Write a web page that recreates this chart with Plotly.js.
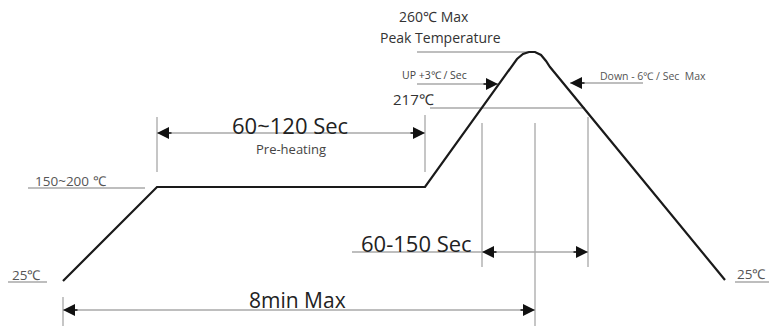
<!DOCTYPE html>
<html>
<head>
<meta charset="utf-8">
<script src="https://cdn.plot.ly/plotly-3.0.1.min.js"></script>
<style>html,body{margin:0;padding:0;background:#fff;}#chart{width:769px;height:326px;}</style>
</head>
<body>
<div id="chart"></div>
<script>
// Reflow profile (diagram units)
const profileX = [63, 157, 425, 511, 517, 523, 529, 535, 541, 546, 550, 725];
const profileY = [281, 187, 187, 67, 59, 54, 52, 52, 55, 61, 67, 280];

// Guide / dimension segments (start and end points)
const guideX1 = [28, 8, 63, 63, 535, 482, 588, 352, 157, 425, 157, 430, 417, 570, 417, 735];
const guideY1 = [188, 282, 297, 310, 123, 123, 117, 252, 117, 115, 133, 108, 84, 83, 52, 282];
const guideX2 = [145, 47, 63, 535, 535, 482, 588, 588, 157, 425, 425, 585, 498, 643, 530, 769];
const guideY2 = [188, 282, 326, 310, 326, 267, 267, 252, 172, 172, 133, 108, 84, 83, 52, 282];

// Arrow tips: position and direction (+1 right, -1 left)
const arrowX = [157, 425, 498, 570, 482, 588, 63, 535];
const arrowY = [133, 133, 84, 83, 252, 252, 310, 310];
const arrowDir = [-1, 1, 1, -1, -1, 1, -1, 1];

// Labels
const labelText = ["260℃ Max", "Peak Temperature", "UP +3℃ / Sec", "217℃", "Down - 6℃ / Sec  Max",
  "60~120 Sec", "Pre-heating", "150~200 ℃", "25℃", "60-150 Sec", "8min Max", "25℃"];
const labelX = [434, 440, 434, 413, 653, 290, 291, 71, 26, 416, 297, 751];
const labelY = [16, 37, 75, 99, 76, 125, 149, 181, 275, 243, 300, 274];
const labelSize = [14, 14, 10.5, 15, 10.5, 22, 13, 13.5, 13.5, 22, 21, 13.5];
const labelColor = ["#333", "#333", "#444", "#333", "#555", "#222", "#444", "#555", "#555", "#222", "#222", "#555"];

const gx = [], gy = [];
for (let i = 0; i < guideX1.length; i++) {
  gx.push(guideX1[i], guideX2[i], null);
  gy.push(guideY1[i], guideY2[i], null);
}

const traces = [
  {x: gx, y: gy, mode: 'lines', line: {color: '#a8a8a8', width: 1.3}, hoverinfo: 'skip', showlegend: false},
  {x: profileX, y: profileY, mode: 'lines', line: {color: '#1a1a1a', width: 2.2}, hoverinfo: 'skip', showlegend: false}
];

const annotations = [];
for (let i = 0; i < labelText.length; i++) {
  annotations.push({x: labelX[i], y: labelY[i], xref: 'x', yref: 'y', text: labelText[i], showarrow: false,
    font: {family: 'Open Sans, sans-serif', size: labelSize[i], color: labelColor[i]}, xanchor: 'center', yanchor: 'middle'});
}
for (let i = 0; i < arrowX.length; i++) {
  annotations.push({x: arrowX[i], y: arrowY[i], xref: 'x', yref: 'y', text: '', showarrow: true,
    ax: -arrowDir[i] * 16, ay: 0, arrowhead: 2, arrowsize: 1.6, arrowwidth: 1.5, arrowcolor: '#111', standoff: 0});
}

const layout = {
  width: 769, height: 326,
  margin: {l: 0, r: 0, t: 0, b: 0},
  paper_bgcolor: '#fff', plot_bgcolor: '#fff',
  xaxis: {range: [0, 769], visible: false, fixedrange: true},
  yaxis: {range: [326, 0], visible: false, fixedrange: true},
  annotations: annotations,
  showlegend: false
};

Plotly.newPlot('chart', traces, layout, {displayModeBar: false, staticPlot: true});
</script>
</body>
</html>
